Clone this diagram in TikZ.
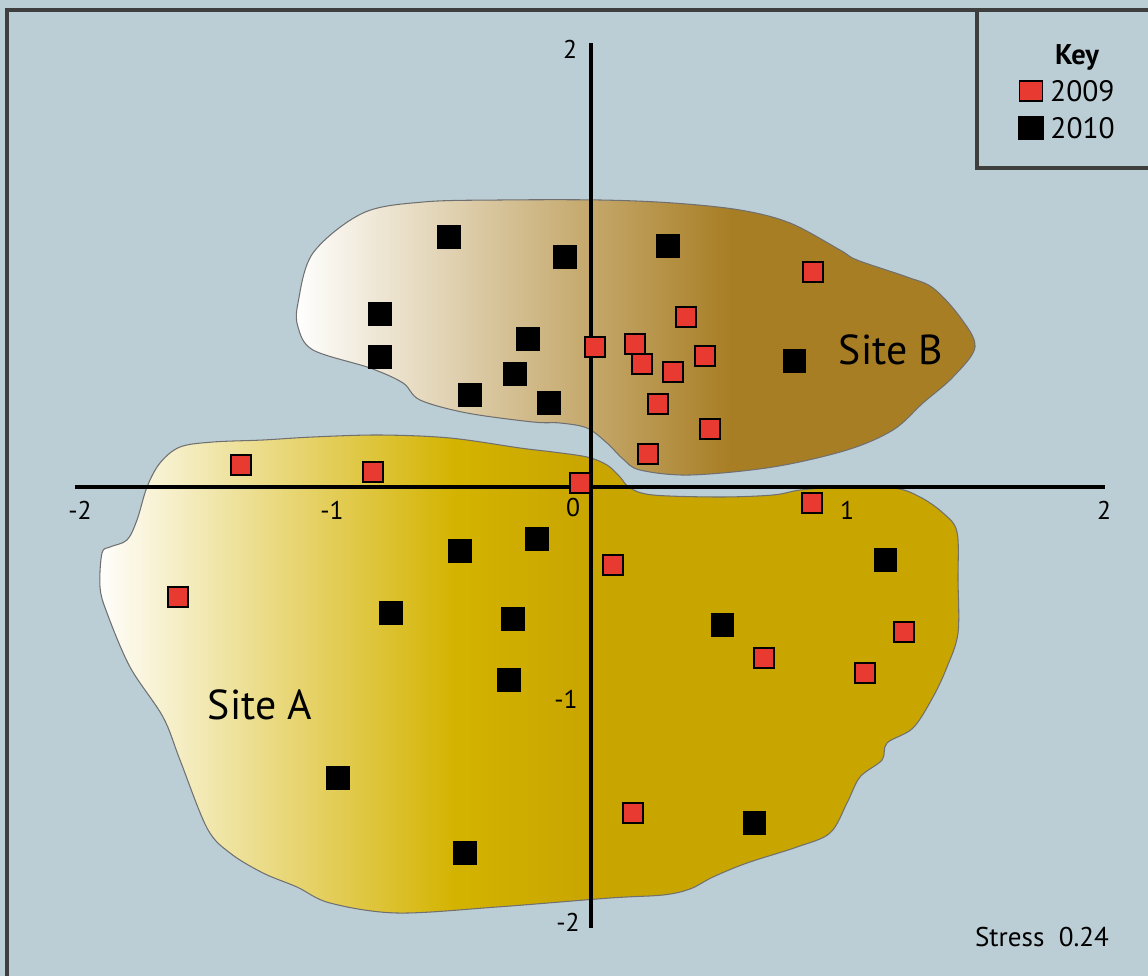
\documentclass[tikz,border=0pt]{standalone}
\usepackage{fontspec}
\setmainfont{PT Sans}
\usetikzlibrary{positioning}

\definecolor{sky}{RGB}{187,206,213}
\definecolor{framegray}{RGB}{62,62,62}
\definecolor{rimgray}{RGB}{112,112,112}
\definecolor{ptred}{RGB}{232,58,48}
\definecolor{goldA}{RGB}{212,179,0}
\definecolor{goldB}{RGB}{201,165,0}
\definecolor{siteBbrown}{RGB}{168,126,36}

\tikzset{
	frameline/.style={line width=0.9pt, draw=framegray},
	axisline/.style={line width=0.95pt, draw=black},
	rim/.style={line width=0.3pt, draw=rimgray},
	pt2009/.style={draw=black, line width=0.55pt, fill=ptred, minimum size=0.2cm, inner sep=0pt},
	pt2010/.style={fill=black, minimum size=0.23cm, inner sep=0pt},
	ticklab/.style={font=\fontsize{7.3}{8}\selectfont, inner sep=0pt},
	sitelab/.style={font=\fontsize{11.9}{14}\selectfont, inner sep=0pt},
	keytxt/.style={font=\fontsize{8.4}{9}\selectfont, inner sep=0pt, anchor=west}
}

\begin{document}
\begin{tikzpicture}[x=0.01cm, y=-0.01cm]
		\useasboundingbox (0,0) rectangle (1148,976);
		\fill[sky] (0,0) rectangle (1148,976);
		\draw[frameline] (7,990) |- (1160,10);

		\begin{scope}
			\clip plot[smooth cycle, tension=0.55] coordinates {(147,487) (160,463) (180,447) (213,442) (263,440) (313,437) (380,435) (450,438) (520,448) (553,452) (587,457) (607,465) (620,477) (630,488) (653,495) (720,497) (773,495) (800,490) (833,488) (893,488) (920,497) (943,513) (957,532) (958,580) (958,633) (947,667) (933,697) (913,728) (887,743) (882,760) (860,777) (847,803) (830,833) (797,847) (747,863) (713,877) (690,889) (663,895) (610,898) (497,907) (397,913) (330,903) (297,887) (263,873) (230,853) (207,828) (180,760) (163,717) (130,667) (107,613) (100,587) (102,553) (110,547) (127,540) (137,520)};
			\shade[left color=white, right color=goldA] (95,430) rectangle (456,920);
			\shade[left color=goldA, right color=goldB] (455,430) rectangle (591,920);
			\fill[goldB] (590,430) rectangle (965,920);
		\end{scope}
		\draw[rim] plot[smooth cycle, tension=0.55] coordinates {(147,487) (160,463) (180,447) (213,442) (263,440) (313,437) (380,435) (450,438) (520,448) (553,452) (587,457) (607,465) (620,477) (630,488) (653,495) (720,497) (773,495) (800,490) (833,488) (893,488) (920,497) (943,513) (957,532) (958,580) (958,633) (947,667) (933,697) (913,728) (887,743) (882,760) (860,777) (847,803) (830,833) (797,847) (747,863) (713,877) (690,889) (663,895) (610,898) (497,907) (397,913) (330,903) (297,887) (263,873) (230,853) (207,828) (180,760) (163,717) (130,667) (107,613) (100,587) (102,553) (110,547) (127,540) (137,520)};

		\begin{scope}
			\clip plot[smooth cycle, tension=0.55] coordinates {(423,202) (500,200) (600,200) (673,203) (740,210) (790,223) (840,250) (857,260) (907,277) (933,288) (960,317) (975,347) (953,377) (923,403) (893,430) (847,450) (773,467) (690,475) (640,470) (623,459) (607,443) (587,428) (560,423) (533,422) (467,413) (420,400) (403,383) (370,368) (313,350) (298,327) (298,303) (313,253) (363,213)};
			\shade[left color=white, right color=siteBbrown] (295,195) rectangle (731,480);
			\fill[siteBbrown] (730,195) rectangle (980,480);
		\end{scope}
		\draw[rim] plot[smooth cycle, tension=0.55] coordinates {(423,202) (500,200) (600,200) (673,203) (740,210) (790,223) (840,250) (857,260) (907,277) (933,288) (960,317) (975,347) (953,377) (923,403) (893,430) (847,450) (773,467) (690,475) (640,470) (623,459) (607,443) (587,428) (560,423) (533,422) (467,413) (420,400) (403,383) (370,368) (313,350) (298,327) (298,303) (313,253) (363,213)};

		\coordinate (xlo) at (75,487);
		\coordinate (xhi) at (1105,487);
		\coordinate (ylo) at (591,928);
		\coordinate (yhi) at (591,43);
		\draw[axisline] (xlo) -- (xhi);
		\draw[axisline] (ylo) -- (yhi);

		\node[ticklab] (xm2) at (80,510) {-2};
		\node[ticklab] (xm1) at (332,510) {-1};
		\node[ticklab] (x0) at (573,508) {0};
		\node[ticklab] (x1) at (847,510) {1};
		\node[ticklab] (x2) at (1104,510) {2};
		\node[ticklab] (y2) at (570,49) {2};
		\node[ticklab] (ym1) at (566,699) {-1};
		\node[ticklab] (ym2) at (568,922) {-2};

		\foreach \px/\py [count=\i] in {449/237, 565/257, 668/246, 380/314, 380/357, 528/339, 515/374, 470/395, 549/403, 794/361, 460/551, 537/539, 391/613, 513/619, 509/680, 338/778, 465/853, 885/560, 722/625, 754/823}
			\node[pt2010] (b\i) at (\px,\py) {};
		\foreach \px/\py [count=\i] in {813/272, 686/317, 595/347, 635/344, 642/364, 673/372, 705/356, 658/404, 710/429, 648/454, 241/465, 373/472, 580/483, 178/597, 812/503, 613/565, 904/632, 764/658, 865/673, 633/813}
			\node[pt2009] (r\i) at (\px,\py) {};

		\node[sitelab] (siteA) at (260,705) {Site A};
		\node[sitelab] (siteB) at (891,350) {Site B};

		\draw[frameline] (1160,168) -| (977,10);
		\node[font=\fontsize{8.1}{9}\selectfont\bfseries, inner sep=0pt] (keyhead) at (1077,57) {Key};
		\node[draw=black, line width=0.55pt, fill=ptred, minimum width=0.23cm, minimum height=0.2cm, inner sep=0pt] (key9) at (1031,91) {};
		\node[fill=black, minimum width=0.26cm, minimum height=0.23cm, inner sep=0pt] (key10) at (1031,128) {};
		\node[keytxt, right=0.06cm of key9] (lab9) {2009};
		\node[keytxt, right=0.05cm of key10] (lab10) {2010};

		\node[font=\fontsize{7.7}{9}\selectfont, inner sep=0pt] (stress) at (1042,937) {Stress\ \ 0.24};
\end{tikzpicture}
\end{document}
